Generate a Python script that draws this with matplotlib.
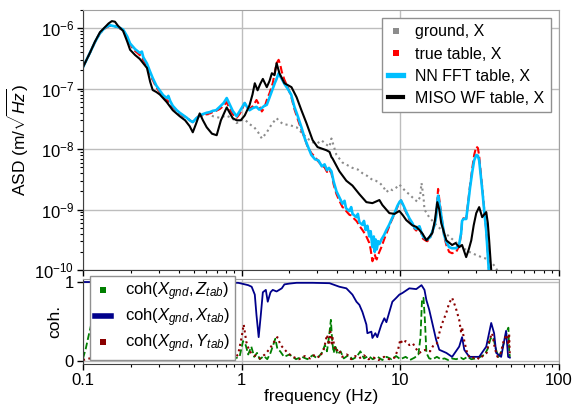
import matplotlib
matplotlib.use("Agg")
import matplotlib.pyplot as plt
from matplotlib.lines import Line2D
from matplotlib.ticker import LogLocator, NullFormatter

plt.rcParams['font.family'] = ['Liberation Sans', 'DejaVu Sans']
plt.rcParams['mathtext.fontset'] = 'custom'
plt.rcParams['mathtext.rm'] = 'Liberation Sans'
plt.rcParams['mathtext.it'] = 'Liberation Sans:italic'
plt.rcParams['mathtext.bf'] = 'Liberation Sans:bold'

# ---------------- ASD data ----------------
f_gnd = [0.1, 0.111, 0.119, 0.128, 0.1375, 0.148, 0.166, 0.179, 0.198, 0.228, 0.253, 0.275, 0.305,
         0.337, 0.368, 0.407, 0.451, 0.492, 0.544, 0.602, 0.66, 0.727, 0.80, 0.878, 0.93, 1.0, 1.045,
         1.12, 1.2, 1.27, 1.34, 1.44, 1.55, 1.66, 1.73, 1.82, 2.0, 2.22, 2.42, 2.6, 2.8, 3.0, 3.19,
         3.4, 3.58, 3.68, 3.96, 4.32, 4.6, 4.99, 5.4, 5.77, 6.2, 6.67, 7.0, 7.38, 7.8, 8.17, 8.6,
         8.91, 9.4, 9.86, 10.3, 10.9, 11.4, 11.9, 12.4, 12.8, 13.3, 13.6, 14.0, 14.2, 15.2, 16.4,
         17.6, 19.0, 20.3, 22.0, 23.5, 25.0, 27.2, 29.0, 31.4, 33.0, 34.8, 36.5, 37.9, 39.5, 40.7, 42.5]
asd_gnd = [2.27e-7, 4.0e-7, 5.9e-7, 8.3e-7, 1.0e-6, 1.1e-6, 1.04e-6, 9.0e-7, 5.2e-7, 3.6e-7, 2.4e-7,
           1.4e-7, 8.7e-8, 6.5e-8, 4.9e-8, 3.9e-8, 3.3e-8, 2.8e-8, 3.6e-8, 3.8e-8, 3.5e-8, 3.3e-8,
           3.6e-8, 3.2e-8, 2.7e-8, 3.0e-8, 3.1e-8, 2.6e-8, 2.3e-8, 1.9e-8, 1.5e-8, 1.9e-8, 2.6e-8,
           3.25e-8, 2.9e-8, 2.6e-8, 2.5e-8, 2.3e-8, 1.8e-8, 1.5e-8, 1.3e-8, 1.25e-8, 1.4e-8, 1.2e-8,
           1.1e-8, 1.5e-8, 8.0e-9, 6.0e-9, 5.5e-9, 4.9e-9, 4.6e-9, 4.0e-9, 3.6e-9, 3.1e-9, 3.0e-9,
           2.8e-9, 2.4e-9, 1.95e-9, 2.2e-9, 2.1e-9, 2.3e-9, 2.6e-9, 2.3e-9, 1.95e-9, 1.8e-9, 1.6e-9,
           1.45e-9, 1.35e-9, 1.6e-9, 2.75e-9, 1.6e-9, 1.0e-9, 7.5e-10, 6.0e-10, 5.0e-10, 4.2e-10,
           3.6e-10, 3.0e-10, 2.6e-10, 2.3e-10, 2.0e-10, 1.85e-10, 1.7e-10, 1.6e-10, 1.55e-10, 1.4e-10,
           1.3e-10, 1.15e-10, 1.0e-10, 7e-11]

f_tab = [0.1, 0.111, 0.119, 0.128, 0.1375, 0.148, 0.157, 0.166, 0.179, 0.19, 0.198, 0.213, 0.228,
         0.235, 0.24, 0.253, 0.265, 0.275, 0.29, 0.305, 0.32, 0.337, 0.345, 0.355, 0.368, 0.39, 0.407,
         0.43, 0.451, 0.47, 0.492, 0.515, 0.544, 0.57, 0.602, 0.63, 0.657, 0.69, 0.727, 0.77, 0.805,
         0.84, 0.878, 0.93, 0.97, 1.0, 1.045, 1.08, 1.12, 1.18, 1.24, 1.29, 1.34, 1.39, 1.44, 1.5,
         1.57, 1.62, 1.66, 1.71, 1.75, 1.79, 1.86, 1.95, 2.05, 2.15, 2.25, 2.38, 2.5, 2.6, 2.75, 2.9,
         3.05, 3.2, 3.33, 3.45, 3.55, 3.68, 3.8, 3.96, 4.13, 4.32, 4.45, 4.55, 4.78, 4.9, 5.0, 5.29,
         5.4, 5.52, 5.77, 5.9, 6.05, 6.2, 6.38, 6.5, 6.67, 6.8, 6.9, 7.0, 7.1, 7.25, 7.38, 7.6, 7.9,
         8.17, 8.5, 8.78, 9.2, 9.58, 9.9, 10.1, 10.5, 10.9, 11.4, 11.9, 12.3, 12.6, 13.0, 13.2, 13.5,
         13.9, 14.4, 14.8, 15.4, 15.9, 16.4, 16.8, 17.1, 17.3, 17.6, 18.1, 18.6, 18.9, 19.5, 20.3,
         21.2, 22.5, 23.5, 24.2, 24.5, 25.0, 26.0, 26.8, 27.5, 28.4, 29.2, 30.1, 30.8, 31.4, 32.1,
         32.8, 33.8, 34.8, 35.5, 36.2, 37.0]
asd_true = [2.27e-7, 4.0e-7, 5.9e-7, 8.3e-7, 1.0e-6, 1.1e-6, 1.1e-6, 1.04e-6, 9.3e-7, 7.0e-7, 5.4e-7,
            4.2e-7, 3.6e-7, 3.4e-7, 3.0e-7, 2.4e-7, 1.8e-7, 1.4e-7, 1.05e-7, 8.7e-8, 7.6e-8, 6.5e-8,
            6.2e-8, 5.8e-8, 4.9e-8, 4.3e-8, 3.9e-8, 3.5e-8, 3.25e-8, 3.0e-8, 2.8e-8, 3.2e-8, 3.6e-8,
            3.5e-8, 3.8e-8, 3.9e-8, 4.1e-8, 4.3e-8, 4.6e-8, 5.2e-8, 6.0e-8, 4.6e-8, 3.8e-8, 3.3e-8,
            3.8e-8, 4.4e-8, 5.8e-8, 5.0e-8, 4.6e-8, 5.2e-8, 6.5e-8, 5.4e-8, 4.2e-8, 4.8e-8, 6.5e-8,
            8.5e-8, 1.23e-7, 1.9e-7, 2.64e-7, 3.0e-7, 2.5e-7, 1.9e-7, 1.4e-7, 1.06e-7, 7.5e-8, 4.6e-8,
            3.2e-8, 2.1e-8, 1.5e-8, 1.1e-8, 8.6e-9, 7.4e-9, 6.2e-9, 5.4e-9, 5.0e-9, 4.2e-9, 4.6e-9,
            4.0e-9, 2.6e-9, 1.8e-9, 1.4e-9, 1.1e-9, 1.05e-9, 9.5e-10, 8.2e-10, 8.0e-10, 7.5e-10,
            6.5e-10, 6.0e-10, 5.4e-10, 4.6e-10, 4.2e-10, 3.8e-10, 3.3e-10, 2.8e-10, 2.2e-10, 1.4e-10,
            1.6e-10, 1.8e-10, 1.6e-10, 1.5e-10, 1.8e-10, 2.0e-10, 2.4e-10, 3.2e-10, 4.0e-10, 5.2e-10,
            6.5e-10, 8.5e-10, 1.1e-9, 1.3e-9, 1.42e-9, 1.1e-9, 8.8e-10, 6.8e-10, 5.8e-10, 4.8e-10,
            4.5e-10, 5.2e-10, 5.4e-10, 4.2e-10, 3.3e-10, 3.1e-10, 3.0e-10, 3.4e-10, 4.2e-10, 5.5e-10,
            8.0e-10, 1.5e-9, 2.2e-9, 1.5e-9, 8.5e-10, 5.0e-10, 3.6e-10, 2.6e-10, 2.0e-10, 1.9e-10,
            2.0e-10, 2.5e-10, 4.0e-10, 6.5e-10, 7.2e-10, 7.0e-10, 1.4e-9, 2.5e-9, 4.8e-9, 8.0e-9,
            1.1e-8, 1.05e-8, 7.8e-9, 4.2e-9, 2.4e-9, 1.0e-9, 4.6e-10, 2.2e-10, 1.0e-10, 5e-11]
asd_nn = [2.27e-7, 4.0e-7, 5.9e-7, 8.3e-7, 1.02e-6, 1.12e-6, 1.08e-6, 1.05e-6, 9.5e-7, 7.3e-7, 5.6e-7,
          4.5e-7, 3.9e-7, 4.1e-7, 3.3e-7, 2.6e-7, 1.9e-7, 1.5e-7, 1.12e-7, 9.3e-8, 7.8e-8, 7.0e-8,
          7.6e-8, 6.2e-8, 5.2e-8, 4.4e-8, 4.0e-8, 3.6e-8, 3.3e-8, 3.0e-8, 2.8e-8, 3.2e-8, 3.6e-8,
          3.8e-8, 4.0e-8, 4.1e-8, 4.3e-8, 4.4e-8, 5.0e-8, 5.8e-8, 7.0e-8, 5.5e-8, 4.3e-8, 3.5e-8,
          4.2e-8, 4.8e-8, 5.8e-8, 5.0e-8, 4.4e-8, 4.8e-8, 5.0e-8, 4.5e-8, 4.8e-8, 5.2e-8, 5.4e-8,
          7.2e-8, 1.0e-7, 1.25e-7, 1.45e-7, 1.8e-7, 1.6e-7, 1.45e-7, 1.2e-7, 1.0e-7, 8.0e-8, 5.0e-8,
          3.6e-8, 2.3e-8, 1.5e-8, 1.15e-8, 8.0e-9, 6.8e-9, 6.5e-9, 5.2e-9, 5.6e-9, 4.5e-9, 4.9e-9,
          4.3e-9, 2.9e-9, 2.0e-9, 1.6e-9, 1.25e-9, 1.4e-9, 1.05e-9, 9.5e-10, 1.1e-9, 8.5e-10,
          7.5e-10, 8.5e-10, 6.2e-10, 5.6e-10, 6.5e-10, 4.6e-10, 5.4e-10, 3.6e-10, 4.4e-10, 2.4e-10,
          3.6e-10, 2.0e-10, 3.2e-10, 2.2e-10, 3.0e-10, 2.7e-10, 3.2e-10, 3.8e-10, 4.6e-10, 5.6e-10,
          6.8e-10, 8.8e-10, 1.15e-9, 1.35e-9, 1.42e-9, 1.15e-9, 9.2e-10, 7.2e-10, 6.0e-10, 5.0e-10,
          4.8e-10, 5.2e-10, 5.3e-10, 4.4e-10, 3.6e-10, 3.3e-10, 3.2e-10, 3.5e-10, 4.3e-10, 5.5e-10,
          7.5e-10, 1.3e-9, 1.7e-9, 1.3e-9, 8.0e-10, 5.0e-10, 3.8e-10, 2.9e-10, 2.4e-10, 2.3e-10,
          2.3e-10, 2.7e-10, 4.2e-10, 6.5e-10, 7.0e-10, 7.0e-10, 1.3e-9, 2.3e-9, 4.2e-9, 6.5e-9,
          8.0e-9, 7.8e-9, 6.5e-9, 3.8e-9, 2.2e-9, 9.5e-10, 4.4e-10, 2.0e-10, 9.0e-11, 5e-11]

f_miso = [0.1, 0.111, 0.119, 0.128, 0.1375, 0.145, 0.152, 0.159, 0.166, 0.179, 0.19, 0.198, 0.213,
          0.228, 0.253, 0.265, 0.275, 0.29, 0.305, 0.337, 0.368, 0.407, 0.44, 0.47, 0.492, 0.515,
          0.544, 0.57, 0.602, 0.65, 0.696, 0.74, 0.805, 0.84, 0.878, 0.93, 0.986, 1.045, 1.12, 1.17,
          1.21, 1.26, 1.31, 1.36, 1.44, 1.5, 1.55, 1.61, 1.66, 1.73, 1.86, 2.06, 2.22, 2.38, 2.56,
          2.8, 3.01, 3.42, 3.58, 3.68, 3.74, 4.13, 4.57, 4.99, 5.52, 6.11, 6.67, 7.38, 7.71, 8.53,
          9.2, 9.86, 10.4, 10.9, 11.9, 12.6, 13.2, 13.8, 14.6, 15.3, 15.9, 16.5, 17.1, 17.6, 18.1,
          19.5, 21.2, 22.3, 23.5, 24.5, 26.0, 27.0, 28.0, 29.0, 30.1, 31.4, 32.8, 34.0, 34.8, 35.6,
          36.3, 37.4, 38.0]
asd_miso = [2.27e-7, 4.0e-7, 6.0e-7, 8.6e-7, 1.04e-6, 1.2e-6, 1.31e-6, 1.28e-6, 1.1e-6, 9.0e-7,
            6.0e-7, 4.4e-7, 3.6e-7, 3.1e-7, 2.2e-7, 1.3e-7, 9.5e-8, 8.8e-8, 8.0e-8, 6.0e-8, 4.4e-8,
            3.5e-8, 3.0e-8, 2.4e-8, 1.9e-8, 2.6e-8, 3.9e-8, 3.0e-8, 2.3e-8, 1.8e-8, 1.7e-8, 3.0e-8,
            4.9e-8, 4.0e-8, 3.25e-8, 3.0e-8, 3.0e-8, 3.6e-8, 5.3e-8, 8.0e-8, 1.23e-7, 9.4e-8, 1.2e-7,
            1.45e-7, 1.06e-7, 1.35e-7, 1.8e-7, 1.67e-7, 2.64e-7, 1.8e-7, 1.23e-7, 1.06e-7, 7.2e-8,
            4.4e-8, 2.7e-8, 1.41e-8, 1.08e-8, 9.6e-9, 9.0e-9, 7.4e-9, 7.0e-9, 4.3e-9, 3.0e-9, 2.5e-9,
            1.8e-9, 1.33e-9, 1.28e-9, 1.44e-9, 1.19e-9, 8.75e-10, 8.5e-10, 9.5e-10, 8.0e-10, 6.7e-10,
            5.5e-10, 5.2e-10, 4.6e-10, 4.0e-10, 3.1e-10, 3.6e-10, 4.1e-10, 6.5e-10, 1.33e-9, 1.0e-9,
            6.0e-10, 3.1e-10, 2.6e-10, 2.8e-10, 2.4e-10, 2.6e-10, 1.64e-10, 2.2e-10, 3.1e-10, 5.5e-10,
            8.75e-10, 1.1e-9, 7.5e-10, 8.5e-10, 9.1e-10, 6.0e-10, 3.1e-10, 1.0e-10, 5e-11]

# ---------------- coherence data ----------------
f_cz = [0.1, 0.104, 0.108, 0.112, 0.117, 0.122, 0.13, 0.14, 0.15, 0.16, 0.18, 0.2, 0.22, 0.25, 0.28,
        0.32, 0.36, 0.4, 0.45, 0.5, 0.56, 0.62, 0.68, 0.75, 0.82, 0.9, 0.97, 1.02, 1.06, 1.1, 1.15,
        1.2, 1.25, 1.3, 1.38, 1.45, 1.52, 1.58, 1.63, 1.68, 1.75, 1.85, 2.0, 2.2, 2.4, 2.6, 2.8, 3.0,
        3.2, 3.35, 3.45, 3.55, 3.65, 3.72, 3.8, 3.9, 4.0, 4.2, 4.4, 4.7, 5.0, 5.3, 5.6, 5.9, 6.3, 6.7,
        7.2, 7.7, 8.2, 8.8, 9.4, 10.0, 10.8, 11.5, 12.3, 13.0, 13.4, 13.7, 14.0, 14.3, 14.6, 15.2,
        16.0, 17.0, 18.0, 19.0, 20.0, 21.0, 22.5, 24.0, 25.0, 26.5, 28.0, 30.0, 32.0, 34.0, 35.5,
        37.0, 38.5, 40.0, 41.5, 43.0, 44.5, 46.0, 47.0, 48.0, 48.5, 49.0]
coh_z = [0.03, 0.15, 0.30, 0.44, 0.30, 0.12, 0.05, 0.10, 0.04, 0.08, 0.03, 0.07, 0.02, 0.06, 0.02,
         0.08, 0.03, 0.06, 0.02, 0.05, 0.03, 0.07, 0.02, 0.04, 0.01, 0.03, 0.05, 0.25, 0.20, 0.08,
         0.18, 0.05, 0.10, 0.02, 0.06, 0.02, 0.10, 0.20, 0.28, 0.15, 0.12, 0.05, 0.08, 0.02, 0.05,
         0.02, 0.07, 0.03, 0.10, 0.20, 0.12, 0.30, 0.52, 0.25, 0.10, 0.20, 0.08, 0.12, 0.03, 0.07,
         0.02, 0.05, 0.12, 0.03, 0.06, 0.02, 0.05, 0.01, 0.05, 0.02, 0.06, 0.02, 0.05, 0.01, 0.04,
         0.08, 0.30, 0.78, 0.80, 0.50, 0.10, 0.03, 0.02, 0.05, 0.02, 0.03, 0.01, 0.03, 0.02, 0.04,
         0.02, 0.05, 0.02, 0.03, 0.05, 0.08, 0.15, 0.28, 0.30, 0.15, 0.05, 0.10, 0.20, 0.30, 0.38,
         0.42, 0.15, 0.05]

f_cx = [0.1, 0.2, 0.5, 0.8, 0.95, 1.0, 1.1, 1.156, 1.21, 1.24, 1.28, 1.32, 1.36, 1.42, 1.46, 1.52,
        1.57, 1.66, 1.79, 1.86, 2.0, 2.22, 2.8, 3.58, 4.13, 4.57, 4.99, 5.29, 5.52, 5.77, 6.11, 6.2,
        6.57, 6.67, 6.96, 7.16, 7.6, 7.93, 8.17, 8.53, 8.91, 9.44, 9.86, 10.3, 11.4, 12.6, 13.6,
        14.2, 14.6, 15.2, 15.9, 16.8, 17.6, 19.5, 21.2, 23.5, 24.5, 25.3, 27.2, 31.4, 34.8, 37.4,
        39.0, 40.2, 43.2, 46.4, 47.8, 49.0]
coh_x = [1.0, 1.0, 0.995, 0.99, 0.99, 0.98, 0.96, 0.94, 0.84, 0.58, 0.30, 0.58, 0.87, 0.90, 0.75,
         0.87, 0.90, 0.88, 0.92, 0.97, 0.98, 0.99, 0.99, 0.985, 0.94, 0.92, 0.84, 0.75, 0.71, 0.62,
         0.46, 0.35, 0.37, 0.29, 0.35, 0.30, 0.46, 0.54, 0.49, 0.62, 0.75, 0.80, 0.84, 0.86, 0.92,
         0.91, 0.96, 0.90, 0.77, 0.65, 0.48, 0.27, 0.14, 0.10, 0.05, 0.18, 0.30, 0.14, 0.05, 0.05,
         0.18, 0.48, 0.35, 0.10, 0.05, 0.38, 0.05, 0.04]

f_cy = [0.1, 0.11, 0.12, 0.13, 0.15, 0.17, 0.19, 0.21, 0.24, 0.27, 0.3, 0.34, 0.38, 0.43, 0.48, 0.54,
        0.6, 0.66, 0.72, 0.8, 0.88, 0.95, 1.0, 1.03, 1.07, 1.12, 1.2, 1.3, 1.4, 1.5, 1.6, 1.68, 1.76,
        1.85, 1.95, 2.1, 2.3, 2.5, 2.7, 2.9, 3.1, 3.3, 3.45, 3.55, 3.62, 3.7, 3.75, 3.9, 4.1, 4.3,
        4.6, 4.9, 5.2, 5.5, 5.9, 6.3, 6.8, 7.3, 7.9, 8.5, 9.2, 9.7, 10.0, 10.3, 10.8, 11.4, 12.0,
        12.6, 13.2, 13.8, 14.6, 15.4, 16.2, 17.0, 17.6, 18.4, 19.5, 20.3, 21.2, 22.3, 23.5, 24.2,
        24.5, 25.3, 26.5, 28.0, 30.0, 31.5, 33.0, 35.0, 36.5, 37.9, 39.5, 41.0, 43.0, 45.0, 47.0,
        48.0, 48.5, 49.0]
coh_y = [0.01, 0.03, 0.01, 0.04, 0.02, 0.05, 0.01, 0.03, 0.01, 0.04, 0.02, 0.05, 0.01, 0.03, 0.01,
         0.04, 0.02, 0.05, 0.02, 0.03, 0.02, 0.08, 0.30, 0.46, 0.24, 0.12, 0.07, 0.03, 0.08, 0.15,
         0.24, 0.30, 0.20, 0.15, 0.10, 0.05, 0.02, 0.06, 0.03, 0.08, 0.04, 0.15, 0.33, 0.20, 0.37,
         0.22, 0.29, 0.12, 0.15, 0.05, 0.08, 0.02, 0.06, 0.03, 0.07, 0.02, 0.04, 0.01, 0.05, 0.02,
         0.04, 0.15, 0.27, 0.22, 0.25, 0.20, 0.22, 0.15, 0.10, 0.13, 0.14, 0.12, 0.20, 0.22, 0.35,
         0.48, 0.61, 0.73, 0.80, 0.68, 0.52, 0.35, 0.43, 0.25, 0.08, 0.03, 0.05, 0.02, 0.06, 0.10,
         0.27, 0.35, 0.15, 0.05, 0.10, 0.27, 0.33, 0.20, 0.35, 0.05]

asd_labels = ['ground, X', 'true table, X', 'NN FFT table, X', 'MISO WF table, X']
coh_labels = [r'coh($X_{gnd}, Z_{tab}$)', r'coh($X_{gnd}, X_{tab}$)', r'coh($X_{gnd}, Y_{tab}$)']
x_ticks = [0.1, 1, 10, 100]
x_ticklabels = ['0.1', '1', '10', '100']

# ---------------- figure ----------------
fig = plt.figure(figsize=(5.78, 4.08), dpi=100)
ax1 = fig.add_axes([0.1436, 0.338, 0.8235, 0.6375])
ax2 = fig.add_axes([0.1436, 0.108, 0.8235, 0.2085], sharex=ax1)

c_gnd, c_true, c_nn, c_miso = '#8c8c8c', '#ff0000', '#00bfff', '#000000'
c_z, c_x, c_y = '#007f00', '#00008b', '#8b0000'

ax1.plot(f_gnd, asd_gnd, ls=':', color=c_gnd, lw=1.5)
ax1.plot(f_tab, asd_true, ls='--', color=c_true, lw=1.5)
ax1.plot(f_tab, asd_nn, ls='-', color=c_nn, lw=1.9)
ax1.plot(f_miso, asd_miso, ls='-', color=c_miso, lw=1.5)
ax1.set_xscale('log')
ax1.set_yscale('log')
ax1.set_xlim(0.1, 100)
ax1.set_ylim(1e-10, 2e-6)
ax1.set_ylabel(r'ASD (m/$\sqrt{Hz}$)', fontsize=12.5, labelpad=2)

ax2.plot(f_cz, coh_z, ls='--', color=c_z, lw=1.3)
ax2.plot(f_cx, coh_x, ls='-', color=c_x, lw=1.3)
ax2.plot(f_cy, coh_y, ls=':', color=c_y, lw=1.5)
ax2.set_ylim(-0.04, 1.04)
ax2.set_yticks([0, 1])
ax2.set_ylabel('coh.', fontsize=12.5, labelpad=2)
ax2.set_xlabel('frequency (Hz)', fontsize=12.5, labelpad=1)
ax2.set_xticks(x_ticks)
ax2.set_xticklabels(x_ticklabels)
ax2.set_xlim(0.1, 100)

for ax in (ax1, ax2):
    ax.grid(True, which='major', color='#bdbdbd', lw=1.0)
    ax.set_axisbelow(True)
    ax.tick_params(which='major', direction='out', length=4, width=1, labelsize=12, color='black',
                   pad=2.5)
    ax.tick_params(which='minor', direction='out', length=2, width=0.8, color='black')
    ax.xaxis.set_minor_locator(LogLocator(base=10, subs=range(2, 10), numticks=20))
    ax.xaxis.set_minor_formatter(NullFormatter())
    for s in ('top', 'right'):
        ax.spines[s].set_color('#a0a0a0')
    for s in ('left', 'bottom'):
        ax.spines[s].set_color('#404040')
ax1.yaxis.set_major_locator(LogLocator(base=10, numticks=20))
ax1.yaxis.set_minor_locator(LogLocator(base=10, subs=range(2, 10), numticks=20))
ax1.yaxis.set_minor_formatter(NullFormatter())
ax1.tick_params(axis='x', labelbottom=False)

h1 = [Line2D([], [], ls='none', marker='s', markersize=4.5, mew=0, color=c_gnd),
      Line2D([], [], ls='none', marker='s', markersize=4.5, mew=0, color=c_true),
      Line2D([], [], ls='-', lw=3.8, color=c_nn),
      Line2D([], [], ls='-', lw=3.0, color=c_miso)]
leg1 = ax1.legend(h1, asd_labels, loc='upper right', fontsize=11.5, handlelength=0.9,
                  handletextpad=0.8, labelspacing=0.45, borderpad=0.4, fancybox=False,
                  framealpha=1, edgecolor='#909090')
leg1.get_frame().set_linewidth(1.0)

h2 = [Line2D([], [], ls='none', marker='s', markersize=4, mew=0, color=c_z),
      Line2D([], [], ls='-', lw=4.0, color=c_x),
      Line2D([], [], ls='none', marker='s', markersize=4, mew=0, color=c_y)]
leg2 = ax2.legend(h2, coh_labels, loc='upper left', bbox_to_anchor=(0.014, 1.035), borderaxespad=0,
                  fontsize=12, handlelength=1.0, handletextpad=0.8, labelspacing=0.2,
                  borderpad=0.3, fancybox=False, framealpha=1, edgecolor='#909090')
leg2.get_frame().set_linewidth(1.0)

fig.savefig('out.png', dpi=100)
